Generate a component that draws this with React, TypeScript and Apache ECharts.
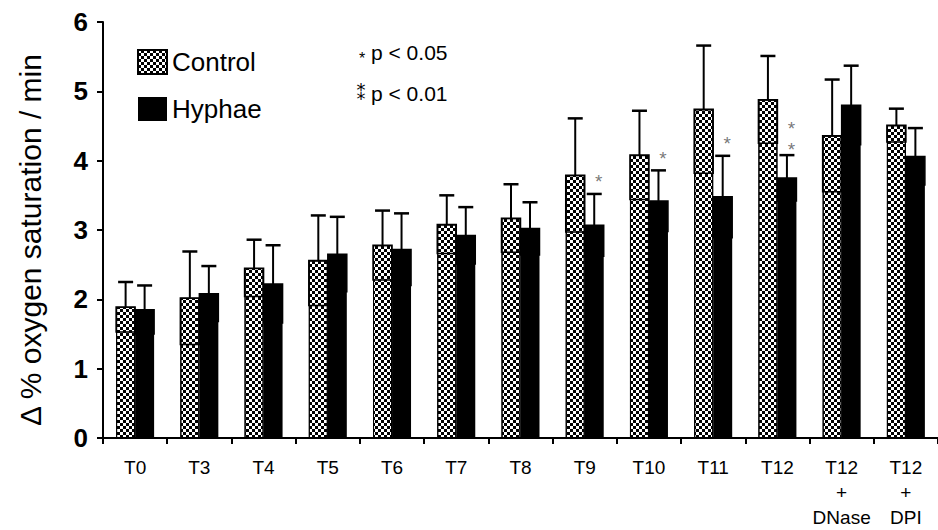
import React, { useEffect, useRef } from "react";
import * as echarts from "echarts";

const categories = ["T0", "T3", "T4", "T5", "T6", "T7", "T8", "T9", "T10", "T11", "T12", "T12\n+\nDNase", "T12\n+\nDPI"];
const control = [1.89, 2.02, 2.45, 2.56, 2.78, 3.08, 3.17, 3.79, 4.08, 4.74, 4.88, 4.36, 4.51];
const controlErr = [0.36, 0.67, 0.41, 0.65, 0.5, 0.42, 0.49, 0.82, 0.64, 0.92, 0.63, 0.81, 0.24];
const hyphae = [1.85, 2.08, 2.22, 2.65, 2.72, 2.92, 3.02, 3.07, 3.42, 3.48, 3.75, 4.8, 4.06];
const hyphaeErr = [0.35, 0.4, 0.56, 0.54, 0.52, 0.41, 0.38, 0.45, 0.44, 0.59, 0.33, 0.57, 0.41];
// significance marks: category index, height (axis units) of the mark centre, mark text
const sigIndex = [7, 8, 9, 10];
const sigHeight = [3.76, 4.09, 4.31, 4.375];
const sigMark = ["*", "*", "*", "**"];
const yTicks = [0, 1, 2, 3, 4, 5, 6];

const FONT = "'Liberation Sans', Arial, sans-serif";
const NARROW = "'Liberation Sans Narrow', 'Arial Narrow', 'Liberation Sans', Arial, sans-serif";
const BAR_W = 19;

function errorRenderer(side: number) {
  return (params: any, api: any) => {
    const i = api.value(0);
    const v = api.value(1);
    const e = api.value(2);
    const c = api.coord([i, v]);
    const top = api.coord([i, v + e]);
    const bot = api.coord([i, v - e]);
    const x = c[0] + (side * BAR_W) / 2;
    const cap = 7.5;
    return {
      type: "group",
      children: [
        { type: "line", shape: { x1: x, y1: c[1], x2: x, y2: top[1] }, style: { stroke: "#000", lineWidth: 2 } },
        { type: "line", shape: { x1: x - cap, y1: top[1], x2: x + cap, y2: top[1] }, style: { stroke: "#000", lineWidth: 2.5 } },
        {
          type: "rect",
          shape: { x: x - BAR_W / 2, y: c[1], width: BAR_W, height: bot[1] - c[1] },
          style: { stroke: "#000", lineWidth: 1.5, fill: "none" },
        },
      ],
    };
  };
}

export default function App() {
  const ref = useRef<HTMLDivElement>(null);
  useEffect(() => {
    if (!ref.current) return;
    const chart = echarts.init(ref.current, null, { renderer: "svg" });
    const option: any = {
      animation: false,
      textStyle: { fontFamily: FONT },
      grid: { left: 103, top: 22, width: 845, height: 418 },
      legend: {
        data: ["Control", "Hyphae"],
        orient: "vertical",
        left: 137,
        top: 49,
        padding: 0,
        itemWidth: 29,
        itemHeight: 24,
        itemGap: 21,
        icon: "rect",
        textStyle: { fontSize: 26, color: "#000", fontFamily: FONT },
      },
      xAxis: {
        type: "category",
        data: categories,
        axisLine: { lineStyle: { color: "#000", width: 2 } },
        axisTick: { show: true, length: 6, interval: 0, lineStyle: { color: "#000", width: 2 } },
        axisLabel: { interval: 0, color: "#000", fontSize: 19, fontFamily: NARROW, lineHeight: 25, margin: 17 },
        splitLine: { show: false },
      },
      yAxis: {
        type: "value",
        min: yTicks[0],
        max: yTicks[yTicks.length - 1],
        interval: 1,
        axisLine: { show: true, lineStyle: { color: "#000", width: 2 } },
        axisTick: { show: true, length: 6, lineStyle: { color: "#000", width: 2 } },
        axisLabel: { color: "#000", fontSize: 26, fontWeight: "bold", margin: 15, fontFamily: FONT },
        splitLine: { show: false },
      },
      graphic: [
        {
          type: "text",
          x: 30,
          y: 240,
          rotation: Math.PI / 2,
          style: {
            text: "Δ % oxygen saturation / min",
            fontSize: 30,
            fontFamily: FONT,
            fill: "#000",
            align: "center",
            verticalAlign: "middle",
          },
        },
        { type: "text", x: 362, y: 58, style: { text: "*", fontSize: 16, fontFamily: FONT, fill: "#000", align: "center", verticalAlign: "middle" } },
        { type: "text", x: 371, y: 52, style: { text: "p < 0.05", fontSize: 21, fontFamily: FONT, fill: "#000", align: "left", verticalAlign: "middle" } },
        { type: "text", x: 361, y: 93, style: { text: "⁑", fontSize: 18, fontFamily: "'DejaVu Sans', 'Noto Sans', sans-serif", fill: "#000", align: "center", verticalAlign: "middle" } },
        { type: "text", x: 371, y: 93, style: { text: "p < 0.01", fontSize: 21, fontFamily: FONT, fill: "#000", align: "left", verticalAlign: "middle" } },
      ],
      series: [
        {
          name: "Control",
          type: "bar",
          data: control,
          barWidth: BAR_W,
          barGap: "0%",
          itemStyle: {
            color: "#fff",
            borderColor: "#000",
            borderWidth: 1,
            decal: {
              symbol: "rect",
              symbolSize: 1,
              color: "#000",
              dashArrayX: [[3, 3], [0, 3, 3, 0]],
              dashArrayY: [3, 0],
              rotation: 0,
            },
          },
        },
        {
          name: "Hyphae",
          type: "bar",
          data: hyphae,
          barWidth: BAR_W,
          barGap: "0%",
          itemStyle: { color: "#000" },
        },
        {
          type: "custom",
          z: 5,
          renderItem: errorRenderer(-1),
          data: control.map((v, i) => [i, v, controlErr[i]]),
          encode: { x: 0, y: 1 },
        },
        {
          type: "custom",
          z: 5,
          renderItem: errorRenderer(1),
          data: hyphae.map((v, i) => [i, v, hyphaeErr[i]]),
          encode: { x: 0, y: 1 },
        },
        {
          type: "scatter",
          z: 6,
          symbolSize: 1,
          itemStyle: { color: "transparent" },
          data: sigIndex.map((c, k) => [c, sigHeight[k]]),
          label: {
            show: true,
            position: "inside",
            formatter: (p: any) => sigMark[p.dataIndex].split("").join("\n"),
            fontSize: 19,
            lineHeight: 21,
            color: "#555",
            fontFamily: FONT,
            offset: [14, 4],
          },
        },
      ],
    };
    chart.setOption(option);
    return () => chart.dispose();
  }, []);
  return <div ref={ref} style={{ position: "absolute", left: 0, top: 0, width: 938, height: 530 }} />;
}
